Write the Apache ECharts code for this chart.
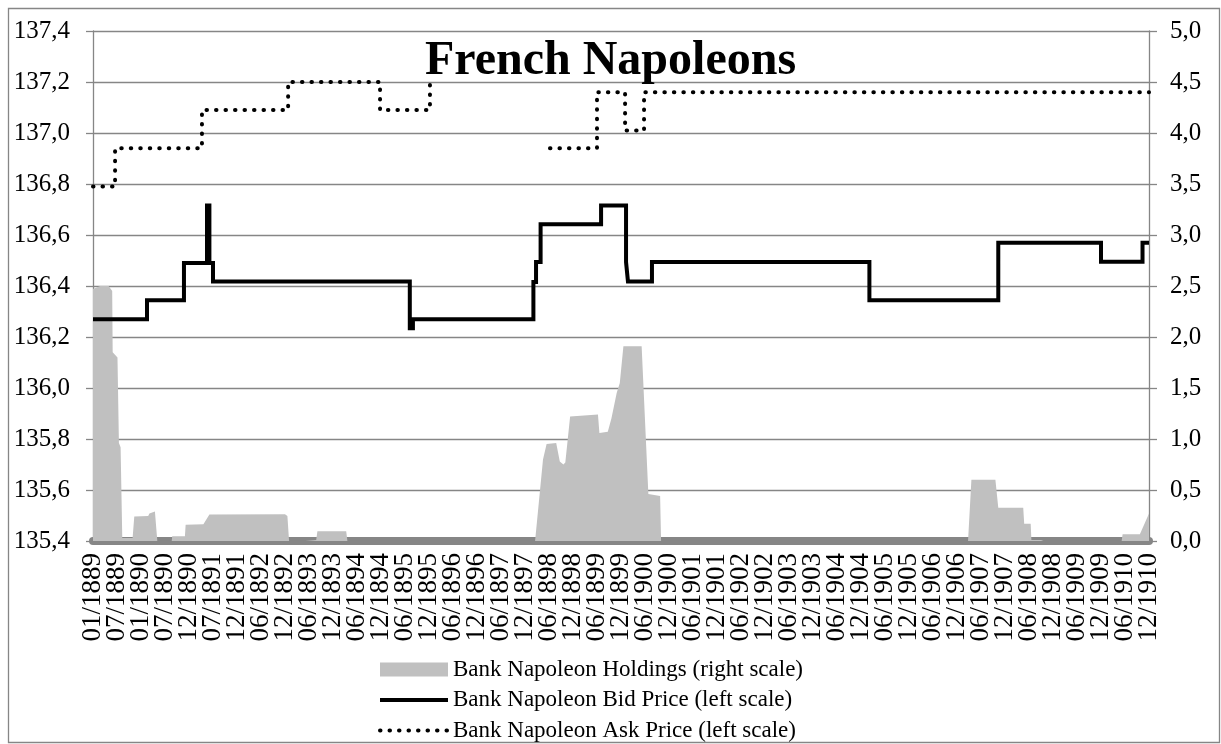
<!DOCTYPE html>
<html>
  <head>
    <meta charset="UTF-8" />
    <title>French Napoleons</title>
    <script type="text/javascript" src="https://cdn.jsdelivr.net/npm/echarts@6.0.0/dist/echarts.min.js"></script>
    <style>
      html, body { margin: 0; padding: 0; background: #fff; }
      #chart { width: 1221px; height: 744px; }
    </style>
  </head>
  <body>
    <div id="chart"></div>
    <script type="text/javascript">
      // x axis labels (one per tick, equally spaced as in the source chart)
      var xLabels = [
        "01/1889", "07/1889", "01/1890", "07/1890", "12/1890", "07/1891", "12/1891",
        "06/1892", "12/1892", "06/1893", "12/1893", "06/1894", "12/1894",
        "06/1895", "12/1895", "06/1896", "12/1896", "06/1897", "12/1897",
        "06/1898", "12/1898", "06/1899", "12/1899", "06/1900", "12/1900",
        "06/1901", "12/1901", "06/1902", "12/1902", "06/1903", "12/1903",
        "06/1904", "12/1904", "06/1905", "12/1905", "06/1906", "12/1906",
        "06/1907", "12/1907", "06/1908", "12/1908", "06/1909", "12/1909",
        "06/1910", "12/1910"
      ];

      // [position on the label axis, price] - price holds until the next point
      var bidPrice = [
        [0, 136.27], [2.25, 136.344], [3.79, 136.49], [4.75, 136.716], [4.85, 136.49],
        [5.0, 136.418], [13.2, 136.234], [13.33, 136.27], [18.35, 136.416], [18.46, 136.494],
        [18.65, 136.642], [21.17, 136.716], [22.21, 136.494], [22.29, 136.418], [23.29, 136.494],
        [32.35, 136.344], [37.72, 136.57], [42.0, 136.495], [43.73, 136.57], [44, 136.57]
      ];

      var askPrice = [
        [0, 136.79], [0.92, 136.94], [4.54, 137.09], [8.13, 137.2], [11.96, 137.09],
        [14.04, 137.2], [14.13, 137.2], [14.14, null],
        [19.04, 136.94], [21.0, 137.16], [22.17, 137.01], [22.96, 137.16], [44, 137.16]
      ];

      // holdings, right scale
      var holdings = [
        [0, 2.47], [0.3, 2.5], [0.65, 2.5], [0.8, 2.45], [0.82, 1.85], [1.02, 1.8],
        [1.08, 0.96], [1.15, 0.92], [1.22, 0.03], [1.65, 0.03], [1.68, 0.02], [1.72, 0.24],
        [2.3, 0.245], [2.35, 0.27], [2.58, 0.29], [2.64, 0.3], [2.68, 0], [3.28, 0],
        [3.3, 0.046], [3.83, 0.046], [3.86, 0.16], [4.6, 0.165], [4.85, 0.26], [8.0, 0.262],
        [8.1, 0.245], [8.17, 0], [8.85, 0], [8.88, 0.01], [9.3, 0.01], [9.35, 0.095],
        [10.55, 0.095], [10.6, 0], [18.42, 0], [18.75, 0.8], [18.9, 0.95], [19.3, 0.96],
        [19.45, 0.78], [19.6, 0.75], [19.68, 0.77], [19.88, 1.22], [21.04, 1.24], [21.1, 1.06],
        [21.45, 1.07], [21.6, 1.2], [21.82, 1.45], [21.95, 1.55], [22.1, 1.91], [22.86, 1.91],
        [23.14, 0.46], [23.63, 0.44], [23.67, 0], [36.46, 0], [36.6, 0.6], [37.6, 0.6],
        [37.72, 0.327], [38.76, 0.327], [38.8, 0.17], [39.07, 0.17], [39.1, 0.01], [39.5, 0.01],
        [39.6, 0], [42.86, 0], [42.9, 0.065], [43.62, 0.065], [44, 0.27]
      ];

      var seriesNames = [
        "Bank Napoleon Holdings (right scale)",
        "Bank Napoleon Bid Price (left scale)",
        "Bank Napoleon Ask Price (left scale)"
      ];

      var serif = "'Liberation Serif', 'Times New Roman', serif";
      var gridGray = "#868686";
      var dots = [0.5, 9];

      function comma(v) {
        return v.toFixed(1).replace(".", ",");
      }

      var myChart = echarts.init(document.getElementById("chart"));

      var option = {
        animation: false,
        backgroundColor: "#fff",
        textStyle: { fontFamily: serif, color: "#000" },
        title: {
          text: "French Napoleons",
          left: "center",
          top: 38,
          padding: 0,
          textStyle: { fontFamily: serif, fontWeight: "bold", fontSize: 48, color: "#000" }
        },
        graphic: [
          {
            type: "rect",
            left: 6,
            top: 6,
            shape: { width: 1211, height: 734 },
            style: { fill: null, stroke: gridGray, lineWidth: 1.3 },
            silent: true
          }
        ],
        legend: {
          orient: "vertical",
          left: 378,
          top: 658,
          padding: 0,
          itemWidth: 68,
          itemHeight: 14,
          itemGap: 7.5,
          textStyle: { fontFamily: serif, fontSize: 23, color: "#000" },
          data: [
            { name: seriesNames[0], icon: "rect", itemStyle: { color: "#c0c0c0" } },
            {
              name: seriesNames[1],
              itemStyle: { opacity: 0 },
              lineStyle: { width: 4, color: "#000" }
            },
            {
              name: seriesNames[2],
              itemStyle: { opacity: 0 },
              lineStyle: { width: 4, color: "#000", type: dots, cap: "round" }
            }
          ]
        },
        grid: {
          left: 93,
          right: 72,
          top: 31,
          bottom: 203,
          containLabel: false,
          outerBoundsMode: "none"
        },
        xAxis: [
          {
            // value axis that places the data
            type: "value",
            min: 0,
            max: 44,
            interval: 1,
            position: "bottom",
            offset: 4,
            axisLine: { lineStyle: { color: gridGray, width: 8 } },
            axisTick: { show: false },
            splitLine: { show: false },
            axisLabel: { show: false }
          },
          {
            // label axis, every label shown
            type: "category",
            data: xLabels,
            boundaryGap: false,
            position: "bottom",
            offset: 4,
            axisLine: { show: false },
            axisTick: { show: false },
            splitLine: { show: false },
            axisLabel: {
              interval: 0,
              rotate: 90,
              margin: 8,
              fontSize: 27,
              fontFamily: serif,
              color: "#000"
            }
          }
        ],
        yAxis: [
          {
            type: "value",
            min: 135.4,
            max: 137.4,
            interval: 0.2,
            axisLine: { show: true, lineStyle: { color: gridGray, width: 1.3 } },
            axisTick: { show: true, length: 7, lineStyle: { color: gridGray, width: 1.3 } },
            splitLine: { lineStyle: { color: gridGray, width: 1.3 } },
            axisLabel: { margin: 23, fontSize: 25, fontFamily: serif, color: "#000", formatter: comma }
          },
          {
            type: "value",
            min: 0,
            max: 5,
            interval: 0.5,
            position: "right",
            axisLine: { show: true, lineStyle: { color: gridGray, width: 1.3 } },
            axisTick: { show: true, length: 8, lineStyle: { color: gridGray, width: 1.3 } },
            splitLine: { show: false },
            axisLabel: { margin: 21, fontSize: 25, fontFamily: serif, color: "#000", formatter: comma }
          }
        ],
        series: [
          {
            name: seriesNames[0],
            type: "line",
            xAxisIndex: 0,
            yAxisIndex: 1,
            symbol: "none",
            z: 1,
            itemStyle: { color: "#c0c0c0" },
            lineStyle: { width: 0, color: "#c0c0c0" },
            areaStyle: { color: "#c0c0c0", opacity: 1 },
            data: holdings
          },
          {
            name: seriesNames[1],
            type: "line",
            xAxisIndex: 0,
            step: "end",
            symbol: "none",
            z: 3,
            itemStyle: { color: "#000" },
            lineStyle: { width: 4, color: "#000", join: "miter" },
            data: bidPrice
          },
          {
            name: seriesNames[2],
            type: "line",
            xAxisIndex: 0,
            step: "end",
            symbol: "none",
            connectNulls: false,
            z: 4,
            itemStyle: { color: "#000" },
            lineStyle: { width: 4, color: "#000", type: dots, cap: "round" },
            data: askPrice
          }
        ]
      };

      myChart.setOption(option);
    </script>
  </body>
</html>
